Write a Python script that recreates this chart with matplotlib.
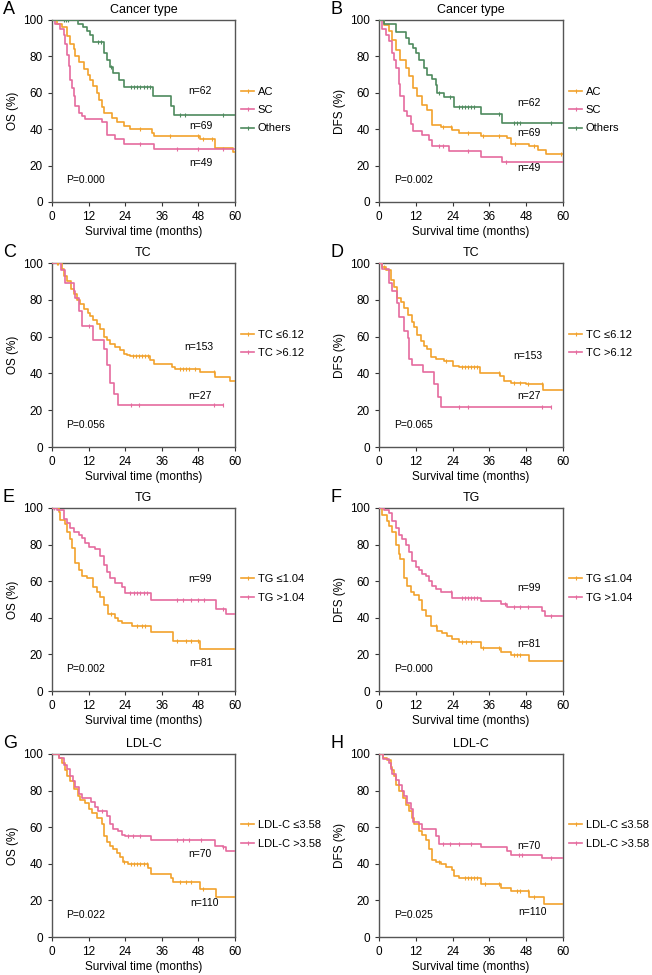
import numpy as np
import matplotlib
matplotlib.use('Agg')
import matplotlib.pyplot as plt
from matplotlib.lines import Line2D

plt.rcParams['font.family'] = ['Liberation Sans', 'DejaVu Sans']

ORANGE = '#F2A22C'
PINK = '#E56B9E'
GREEN = '#4E8A5E'

# ---- A: OS by cancer type ----
a_ac_t = [0, 1.6, 3.3, 5, 6, 7.1, 7.6, 8.7, 10.4, 11.7, 12.5, 13.6, 14.7, 15.3, 16.4, 17, 19.6, 21.3, 23.5, 25.6, 32.7, 33.3, 48.5, 53.5, 59.5, 60]
a_ac_s = [100, 98, 96, 91, 87, 84, 80, 77, 73, 70, 67, 64, 60, 56, 52, 49, 46, 44, 42, 40, 38, 36.5, 34.5, 29.5, 27.5, 27.5]
a_ac_c = [29, 38.7, 48, 49.6, 52.4]
a_sc_t = [0, 1, 2.7, 3.8, 4.4, 4.9, 5.5, 6, 6.5, 7.1, 7.6, 8.7, 9.8, 10.9, 16.4, 18, 20.7, 23.5, 33.3, 60]
a_sc_s = [100, 98, 95, 92, 87, 81, 75, 67, 62.5, 58, 52.5, 49, 47.5, 45.5, 44, 37, 34.5, 32, 29.3, 29.3]
a_sc_c = [28.7, 41, 48, 56]
a_oth_t = [0, 8.5, 10, 11.5, 12.5, 13.5, 17, 18, 19, 20, 22, 23.5, 33, 39, 40, 60]
a_oth_s = [100, 98, 96, 94, 92, 88, 82, 78, 74, 71, 67, 63, 58, 53, 48, 48]
a_oth_c = [4, 4.7, 5.3, 15, 16, 19.5, 26, 27, 28, 29, 30, 31, 32, 42, 43.5, 56]

# ---- B: DFS by cancer type ----
b_ac_t = [0, 1.6, 3.3, 4.3, 5.4, 7, 8.7, 9.8, 11.1, 12.5, 14.1, 15.8, 17.2, 20.1, 23.9, 26, 33.2, 41.8, 43, 49, 52, 54.3, 60]
b_ac_s = [100, 97, 94, 89, 83.5, 78, 73.5, 69, 62.5, 58, 53.5, 50.5, 42.5, 41, 39.7, 37.8, 36, 35, 32, 30.5, 28.7, 26.3, 26.3]
b_ac_c = [21, 23.5, 29, 34, 39, 44.5, 50.5, 59.5]
b_sc_t = [0, 1.1, 2.2, 3.3, 4.3, 4.9, 5.4, 6.5, 7, 8.2, 9.2, 10.3, 11.1, 14.1, 16.3, 17.4, 22.8, 33.2, 40.2, 60]
b_sc_s = [100, 95, 92, 88.5, 82, 78, 73.5, 65, 58, 50, 47, 43, 39, 37, 34, 30.5, 28, 25, 22, 22]
b_sc_c = [19.5, 21, 29, 41.5]
b_oth_t = [0, 1.6, 5.7, 8.7, 9.8, 11.1, 12, 13, 14.7, 15.8, 17.4, 18.5, 19, 21.2, 24.5, 33.2, 40, 60]
b_oth_s = [100, 98, 93.5, 90, 87, 84.5, 82, 78, 73.5, 70, 67.5, 64.5, 60, 57.5, 52, 48.3, 43.3, 43.3]
b_oth_c = [19.5, 23, 26, 27, 28, 29, 30, 31, 39, 44, 45, 46, 56]

# ---- C: OS by TC ----
c_lo_t = [0, 3.3, 3.8, 4.9, 6.2, 7.1, 8.2, 9.3, 10.4, 11.7, 12.5, 13.6, 14.7, 15.8, 16.9, 18, 19.1, 20.7, 22.4, 23.5, 24.5, 25.6, 32.2, 33.3, 39.3, 40.4, 48.5, 53.5, 58.4, 60]
c_lo_s = [100, 97, 93, 90, 86, 83, 80, 77.5, 75, 73, 71, 69, 67, 64, 60, 58, 56, 54.5, 52.5, 50.5, 50, 49.5, 47.5, 45, 43.5, 42.5, 41, 38, 36, 36]
c_lo_c = [1.5, 2, 26.5, 27.5, 28.5, 29.5, 30.5, 31.5, 42, 43, 44, 45, 47, 53]
c_hi_t = [0, 3, 4.4, 7.1, 7.6, 9, 9.8, 13.6, 16.9, 18, 19.1, 20.2, 21.8, 56]
c_hi_s = [100, 96, 89, 85, 81, 74, 66, 58, 53, 44.5, 35, 29, 23, 23]
c_hi_c = [12, 26, 28.5, 53, 56]

# ---- D: DFS by TC ----
d_lo_t = [0, 1.1, 2.2, 3.8, 4.9, 6, 7.1, 8.2, 9.3, 10.9, 11.5, 12.5, 13.6, 14.7, 15.8, 16.9, 18.5, 21.3, 24, 26.2, 33, 39.3, 40.9, 43, 48, 53.5, 60]
d_lo_s = [100, 98, 96, 91, 87, 81, 79, 75.5, 71.5, 68, 65, 61, 57.5, 55, 53, 49, 48, 47, 44, 43.5, 40, 38.5, 36, 35, 34, 31, 31]
d_lo_c = [1.5, 22, 27, 28, 29, 30, 31, 32, 39, 44, 46, 48.5, 53]
d_hi_t = [0, 1.1, 3.3, 4.4, 6, 6.5, 8.2, 9.3, 9.8, 10.9, 14.2, 18, 19.1, 20.2, 56]
d_hi_s = [100, 96.5, 89, 85, 78, 70.5, 63, 59, 48, 44.5, 40.5, 34, 27, 22, 22]
d_hi_c = [26, 29, 53, 56]

# ---- E: OS by TG ----
e_lo_t = [0, 2.2, 2.7, 4.3, 4.9, 6, 6.5, 7.6, 8.7, 9.8, 11.4, 13.6, 14.7, 15.8, 16.9, 18.5, 20.7, 21.7, 22.8, 26.1, 32.6, 39.7, 48.4, 60]
e_lo_s = [100, 98, 93.5, 91, 87, 83, 78, 70, 66, 63, 61.5, 57, 54, 51.5, 47, 42, 40, 38.5, 37, 35.5, 32, 27.5, 23, 23]
e_lo_c = [19.5, 28, 29.5, 30.5, 41, 44, 45.5, 48]
e_hi_t = [0, 1.6, 3.8, 4.9, 6, 7.1, 8.7, 9.8, 10.9, 12, 14.1, 15.8, 16.9, 18, 19.1, 20.7, 22.8, 23.9, 32.6, 53.8, 57, 60]
e_hi_s = [100, 99, 94, 92, 89, 87, 85.5, 83.5, 81, 78.5, 77.5, 74, 69, 65, 61.5, 59, 57, 53.5, 50, 45, 42, 42]
e_hi_c = [0.5, 25.5, 27, 28, 29, 30, 31, 41, 43, 45.5, 48, 50, 56]

# ---- F: DFS by TG ----
f_lo_t = [0, 1.1, 2.7, 3.3, 4.3, 5.4, 6.5, 7, 8.2, 9.2, 10.3, 11.4, 13, 14.1, 15.2, 16.8, 19, 20.7, 22.3, 23.9, 26, 33.2, 39.7, 42.9, 48.9, 60]
f_lo_s = [100, 96, 93, 90, 87, 80, 75, 72, 62, 57.5, 54, 52.5, 50, 44, 41, 35.5, 33, 31.5, 30, 28.5, 27, 23.5, 21.5, 19.5, 16.5, 16.5]
f_lo_c = [18.5, 27, 28.5, 30, 34, 39, 44, 45, 46]
f_hi_t = [0, 1.6, 3.3, 4.3, 5.4, 6.5, 7.6, 8.7, 9.8, 10.9, 12, 13, 14.1, 15.2, 16.3, 17.4, 18.5, 20.1, 23.9, 33.2, 39.7, 41.8, 53.3, 54.1, 60]
f_hi_s = [100, 99, 97, 93, 89, 85, 83, 80, 76, 71, 67.5, 66, 64, 63, 60, 57.5, 55.5, 54, 51, 49, 47.5, 46, 43.5, 41, 41]
f_hi_c = [23.5, 27, 28, 29, 30, 31, 32, 41, 44, 46, 48.5, 56]

# ---- G: OS by LDL-C ----
g_lo_t = [0, 2.2, 3.3, 4.1, 4.9, 6, 7.3, 8.4, 9.3, 10.9, 12, 13, 14.7, 16.3, 17.1, 18, 19, 20.1, 21.2, 22.3, 23.4, 25, 31.5, 32.6, 39.1, 39.7, 48.4, 53.8, 60]
g_lo_s = [100, 98, 95, 91, 88, 85, 81, 77, 75, 73, 70, 68, 65, 62, 55, 52, 50, 48, 46, 43.5, 41, 40, 37.5, 34.5, 32, 30, 26, 22, 22]
g_lo_c = [23.5, 26, 27, 28, 29, 30, 31, 42, 44, 45.5, 49.5]
g_hi_t = [0, 2.2, 3.8, 4.9, 6, 6.8, 7.6, 8.7, 9.8, 12.7, 14.1, 15.2, 18, 18.9, 20.1, 21.8, 22.8, 23.9, 32.6, 53.3, 56, 57.1, 60]
g_hi_s = [100, 98, 94, 92, 88, 85, 82, 78, 76, 74, 71, 69, 66, 62, 59, 58, 56, 55, 53, 50, 49, 47, 47]
g_hi_c = [16.5, 25, 26.5, 29, 41, 43, 45, 49, 56]

# ---- H: DFS by LDL-C ----
h_lo_t = [0, 1.3, 2.7, 3.8, 4.3, 4.9, 5.4, 6.5, 7.8, 8.7, 9.8, 10.9, 11.4, 13, 14.1, 15.2, 16.3, 17.2, 18.5, 20.1, 21.7, 23.9, 24.5, 26, 33.2, 39.7, 42.9, 48.9, 53.8, 60]
h_lo_s = [100, 98, 96.5, 93, 91, 88, 83, 80, 76, 72, 69, 65, 62, 58, 56, 53, 48, 42, 41, 40, 38.5, 36.5, 33.5, 32.5, 29, 27, 25, 22, 18, 18]
h_lo_c = [19.5, 28, 29, 30, 31, 32, 34.5, 39, 45, 46, 48.5, 50.5]
h_hi_t = [0, 1.3, 3.3, 3.8, 4.3, 5.4, 6.5, 7.6, 8.2, 9.2, 10.3, 11.1, 13, 14.1, 18.5, 19.6, 33.2, 41.8, 42.9, 53.3, 60]
h_hi_s = [100, 97.5, 95, 92, 89, 86, 83, 80, 77, 73, 70, 63, 61.5, 59, 55, 51, 49, 47, 45, 43, 43]
h_hi_c = [21, 23, 26, 30, 45.5, 46.5, 56]

letters = ['A', 'B', 'C', 'D', 'E', 'F', 'G', 'H']
titles = ['Cancer type', 'Cancer type', 'TC', 'TC', 'TG', 'TG', 'LDL-C', 'LDL-C']
ylabels = ['OS (%)', 'DFS (%)'] * 4
p_values = ['P=0.000', 'P=0.002', 'P=0.056', 'P=0.065', 'P=0.002', 'P=0.000', 'P=0.022', 'P=0.025']
legend_a = ['AC', 'SC', 'Others']
legend_tc = ['TC \u22646.12', 'TC >6.12']
legend_tg = ['TG \u22641.04', 'TG >1.04']
legend_ldl = ['LDL-C \u22643.58', 'LDL-C >3.58']
n_labels = [
    [('n=62', 48.5, 61), ('n=69', 48.8, 41.5), ('n=49', 48.8, 21.5)],
    [('n=62', 49, 54.5), ('n=69', 49, 38), ('n=49', 49, 18.5)],
    [('n=153', 48, 54.5), ('n=27', 48.5, 27.5)],
    [('n=153', 48.5, 49.5), ('n=27', 49, 27.5)],
    [('n=99', 48.5, 61), ('n=81', 49, 15.5)],
    [('n=99', 49, 56.5), ('n=81', 49, 25.5)],
    [('n=70', 48.5, 45.5), ('n=110', 50, 18.5)],
    [('n=70', 49, 49.5), ('n=110', 50, 13.5)],
]

curves = [
    [(a_ac_t, a_ac_s, a_ac_c, ORANGE), (a_sc_t, a_sc_s, a_sc_c, PINK), (a_oth_t, a_oth_s, a_oth_c, GREEN)],
    [(b_ac_t, b_ac_s, b_ac_c, ORANGE), (b_sc_t, b_sc_s, b_sc_c, PINK), (b_oth_t, b_oth_s, b_oth_c, GREEN)],
    [(c_lo_t, c_lo_s, c_lo_c, ORANGE), (c_hi_t, c_hi_s, c_hi_c, PINK)],
    [(d_lo_t, d_lo_s, d_lo_c, ORANGE), (d_hi_t, d_hi_s, d_hi_c, PINK)],
    [(e_lo_t, e_lo_s, e_lo_c, ORANGE), (e_hi_t, e_hi_s, e_hi_c, PINK)],
    [(f_lo_t, f_lo_s, f_lo_c, ORANGE), (f_hi_t, f_hi_s, f_hi_c, PINK)],
    [(g_lo_t, g_lo_s, g_lo_c, ORANGE), (g_hi_t, g_hi_s, g_hi_c, PINK)],
    [(h_lo_t, h_lo_s, h_lo_c, ORANGE), (h_hi_t, h_hi_s, h_hi_c, PINK)],
]
legends = [legend_a, legend_a, legend_tc, legend_tc, legend_tg, legend_tg, legend_ldl, legend_ldl]

W, H = 652, 975
fig = plt.figure(figsize=(W / 100, H / 100), dpi=100)

# axes boxes in pixels: left/right and top/bottom
col_x = [(52, 235), (379, 563)]
row_y = [(20, 202), (263, 447), (508, 691), (754, 937)]

def km(ax, t, s, c, color):
    t = np.array(t)
    s = np.array(s)
    ax.step(t, s, where='post', color=color, lw=1.2, zorder=3)
    idx = np.searchsorted(t, c, side='right') - 1
    ax.plot(c, s[idx], ls='none', marker='|', ms=3.5, mew=0.8, color=color, zorder=4)

for i in range(8):
    x0, x1 = col_x[i % 2]
    y0, y1 = row_y[i // 2]
    ax = fig.add_axes([x0 / W, 1 - y1 / H, (x1 - x0) / W, (y1 - y0) / H])
    for t, s, c, color in curves[i]:
        km(ax, t, s, c, color)
    ax.set_xlim(0, 60)
    ax.set_ylim(0, 100)
    ax.set_xticks(range(0, 61, 12))
    ax.set_yticks(range(0, 101, 20))
    ax.tick_params(labelsize=8.5, length=3, width=0.8, color='#333333', pad=3.5)
    for sp in ax.spines.values():
        sp.set_color('#555555')
        sp.set_linewidth(1.0)
    ax.set_title(titles[i], fontsize=9, pad=5)
    ax.set_xlabel('Survival time (months)', fontsize=8.5, labelpad=2)
    ax.set_ylabel(ylabels[i], fontsize=8.5, labelpad=3)
    for txt, xx, yy in n_labels[i]:
        ax.text(xx, yy, txt, fontsize=7.5, ha='center', va='center')
    ax.text(4.5 if i % 2 == 0 else 4.9, 12, p_values[i], fontsize=7.5, ha='left', va='center')
    handles = [Line2D([0], [0], color=cv[3], lw=1.2, marker='|', ms=3.5, mew=0.8) for cv in curves[i]]
    yc = 0.505 if len(curves[i]) == 3 else 0.56
    ax.legend(handles, legends[i], loc='center left', bbox_to_anchor=(1.035, yc),
              frameon=False, fontsize=8, handlelength=1.1, handletextpad=0.35,
              labelspacing=0.75, borderaxespad=0, borderpad=0)
    fig.text((x0 - 49) / W, 1 - (y0 - 11) / H, letters[i], fontsize=13, ha='left', va='center')

fig.savefig('out.png', dpi=100)
